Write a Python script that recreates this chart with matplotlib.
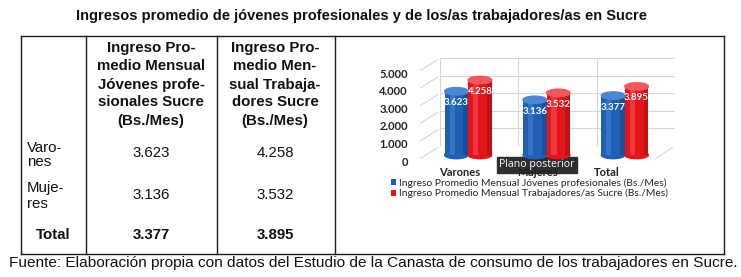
import numpy as np
import matplotlib
matplotlib.use("Agg")
import matplotlib.pyplot as plt
import matplotlib.transforms as mtransforms
from matplotlib.patches import Ellipse

# datos
categorias = ["Varones", "Mujeres", "Total"]
jovenes = [3623, 3136, 3377]
trabajadores = [4258, 3532, 3895]
yticks = [0, 1000, 2000, 3000, 4000, 5000]
serie_labels = ["Ingreso Promedio Mensual Jóvenes profesionales (Bs./Mes)",
                "Ingreso Promedio Mensual Trabajadores/as Sucre (Bs./Mes)"]
col_header_1 = ["Ingreso Pro-", "medio Mensual", "Jóvenes profe-", "sionales Sucre", "(Bs./Mes)"]
col_header_2 = ["Ingreso Pro-", "medio Men-", "sual Trabaja-", "dores Sucre", "(Bs./Mes)"]
fila_labels = ["Varo-\nnes", "Muje-\nres", "Total"]
titulo = "Ingresos promedio de jóvenes profesionales y de los/as trabajadores/as en Sucre"
fuente = "Fuente: Elaboración propia con datos del Estudio de la Canasta de consumo de los trabajadores en Sucre."

def fmt(v):
    return f"{v:,}".replace(",", ".")

W, H = 741, 277
fig = plt.figure(figsize=(W / 100, H / 100), dpi=100)
fig.patch.set_facecolor("white")

# ---- tabla (fondo en pixeles)
bg = fig.add_axes([0, 0, 1, 1])
bg.set_xlim(0, W)
bg.set_ylim(H, 0)
bg.axis("off")

tfont = ["Liberation Sans", "DejaVu Sans"]
lc = "#1a1a1a"
x_left, x_c1, x_c2, x_c3, x_right = 20.5, 86, 216.5, 335, 724
y_top, y_bot = 36, 253.5
bg.plot([x_left, x_right], [y_top, y_top], color=lc, lw=1.0)
bg.plot([x_left, x_right], [y_bot, y_bot], color=lc, lw=1.0)
for xx in [x_left, x_c1, x_c2, x_c3, x_right]:
    bg.plot([xx, xx], [y_top, y_bot], color=lc, lw=1.0)

bg.text(362, 16, titulo, ha="center", va="center", fontsize=10.5, fontweight="bold",
        family=["Liberation Sans Narrow", "Liberation Sans"], color="#111111")
bg.text(373, 263, fuente, ha="center", va="center", fontsize=11.1,
        family=["Liberation Sans Narrow", "Liberation Sans"], color="#111111")

hy = [48, 66.5, 84.5, 102.5, 120.5]
for i in range(5):
    bg.text(151, hy[i], col_header_1[i], ha="center", va="center", fontsize=10.8,
            fontweight="bold", family=tfont, color="#111111")
    bg.text(275, hy[i], col_header_2[i], ha="center", va="center", fontsize=10.8,
            fontweight="bold", family=tfont, color="#111111")

row_y = [155, 196, 235]
bg.text(27, row_y[0], fila_labels[0], ha="left", va="center", fontsize=10.8,
        family=tfont, linespacing=1.05, color="#111111")
bg.text(27, row_y[1], fila_labels[1], ha="left", va="center", fontsize=10.8,
        family=tfont, linespacing=1.2, color="#111111")
bg.text(53, row_y[2], fila_labels[2], ha="center", va="center", fontsize=10.8,
        fontweight="bold", family=tfont, color="#111111")
val_y = [153, 195, 235]
for i in range(3):
    w = "bold" if i == 2 else "normal"
    bg.text(151, val_y[i], fmt(jovenes[i]), ha="center", va="center", fontsize=10.8,
            fontweight=w, family=tfont, color="#111111")
    bg.text(275, val_y[i], fmt(trabajadores[i]), ha="center", va="center", fontsize=10.8,
            fontweight=w, family=tfont, color="#111111")

# ---- grafico "3D"
ax = fig.add_axes([440 / W, (H - 146) / H, 235 / W, 88 / H])
ax.set_xlim(-0.5, 2.5)
ax.set_ylim(0, 5000)
for s in ax.spines.values():
    s.set_visible(False)
ax.set_yticks(yticks)
ax.set_xticks([-0.5, 0.5, 1.5, 2.5])
ax.tick_params(length=0, labelleft=False, labelbottom=False)
ax.grid(True, color="#d6d6d6", lw=0.8)
ax.set_facecolor("white")

gcol = "#d6d6d6"
for t in yticks:
    ax.annotate("", xy=(-0.5, t), xytext=(-22, -14), textcoords="offset pixels",
                arrowprops=dict(arrowstyle="-", color=gcol, lw=0.8))
ax.annotate("", xy=(2.5, 0), xytext=(-22, -14), textcoords="offset pixels",
            arrowprops=dict(arrowstyle="-", color=gcol, lw=0.8))

tick_tr = ax.transData + mtransforms.ScaledTranslation(-32 / 100, -16 / 100, fig.dpi_scale_trans)
mid = ax.transData + mtransforms.ScaledTranslation(-11 / 100, -9 / 100, fig.dpi_scale_trans)

for t in yticks:
    ax.text(-0.5, t, fmt(t), transform=tick_tr, ha="right", va="center", fontsize=8,
            fontweight="bold", family=["Lato", "DejaVu Sans"], color="#222222")

x = np.arange(len(categorias))
bw = 0.30
colores = [("#1f5fb4", "#4a88d6", "#17468a"), ("#e3151b", "#f2575a", "#a90f14")]
series = [jovenes, trabajadores]
conts = []
for k, vals in enumerate(series):
    base, light, dark = colores[k]
    xs = x + (k - 0.5) * bw
    cont = ax.bar(xs, vals, width=bw, color=base, label=serie_labels[k], zorder=3)
    conts.append(cont)
    for p in cont.patches:
        p.set_transform(mid)
        p.set_clip_on(False)
    hl = ax.bar(xs - bw * 0.18, vals, width=bw * 0.22, color=light, alpha=0.55, zorder=3.1)
    dk = ax.bar(xs + bw * 0.40, vals, width=bw * 0.2, color=dark, alpha=0.6, zorder=3.1)
    for p in list(hl.patches) + list(dk.patches):
        p.set_transform(mid)
        p.set_clip_on(False)
    for xi, v in zip(xs, vals):
        e0 = Ellipse((xi, 0), bw, 420, color=base, transform=mid, clip_on=False, zorder=2.9)
        e1 = Ellipse((xi, v), bw, 420, color=light, transform=mid, clip_on=False, zorder=3.3)
        ax.add_patch(e0)
        ax.add_patch(e1)
        ax.text(xi, v - 650, fmt(v), transform=mid, ha="center", va="center", fontsize=7,
                fontweight="bold", color="white", family=["Lato", "DejaVu Sans"], zorder=4)

# etiquetas de categoria (perspectiva: se corren a la izquierda)
lab_dx = [-19, -20, -29]
for i, c in enumerate(categorias):
    tr = ax.transData + mtransforms.ScaledTranslation(lab_dx[i] / 100, -26 / 100, fig.dpi_scale_trans)
    ax.text(x[i], 0, c, transform=tr, ha="center", va="center", fontsize=8,
            fontweight="bold", family=["Lato", "DejaVu Sans"], color="#222222")

leg = ax.legend(handles=conts, loc="upper left", bbox_to_anchor=(391 / W, (H - 178.5) / H),
                bbox_transform=fig.transFigure, frameon=False,
                handlelength=0.5, handleheight=0.5, handletextpad=0.25,
                labelspacing=0.08, borderpad=0, borderaxespad=0,
                prop={"family": ["Lato", "DejaVu Sans"], "size": 7.4})
for txt in leg.get_texts():
    txt.set_color("#222222")

# tooltip de la captura
bg.text(537, 165, "Plano posterior", ha="center", va="center", fontsize=7.6,
        family=["Open Sans", "DejaVu Sans"], color="white", zorder=10,
        bbox=dict(boxstyle="square,pad=0.25", fc="#2e2e2e", ec="#2e2e2e"))

fig.savefig("out.png", dpi=100, facecolor="white")
